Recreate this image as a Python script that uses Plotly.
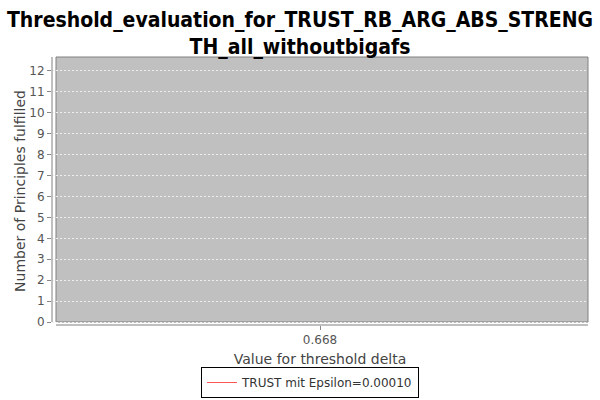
import plotly.graph_objects as go

# Data
x_values = [0.668]
y_values = [12]
series_name = "TRUST mit Epsilon=0.00010"
x_tick_vals = [0.668]
x_tick_text = ["0.668"]
y_tick_vals = list(range(0, 13))

title_text = "Threshold_evaluation_for_TRUST_RB_ARG_ABS_STRENG<br>TH_all_withoutbigafs"

fig = go.Figure()
fig.add_trace(go.Scatter(
    x=x_values, y=y_values, mode="lines", name=series_name,
    line=dict(color="#FF5555", width=1),
    showlegend=True,
))

L, R, T, B = 52, 12, 57, 75
W, H = 600, 400
pw = W - L - R
ph = H - T - B
gx = 4 / pw          # gap between y axis and plot box
gy = 3 / ph          # gap between x axis and plot box

fig.update_layout(
    width=W, height=H,
    margin=dict(l=L, r=R, t=T, b=B, pad=0, autoexpand=False),
    paper_bgcolor="white",
    plot_bgcolor="white",
    font=dict(family="DejaVu Sans", color="#444444"),
    title=dict(
        text=title_text, x=0.5, xanchor="center", yref="container", y=1 - 27 / H, yanchor="middle",
        font=dict(family="DejaVu Sans Condensed, DejaVu Sans", size=21, color="black", weight="bold"),
    ),
    showlegend=True,
    legend=dict(
        xref="container", yref="container",
        x=310 / W, xanchor="center",
        y=1 - 398 / H, yanchor="bottom",
        bordercolor="black", borderwidth=1, bgcolor="white",
        font=dict(size=12, color="#333333"),
        orientation="h", itemwidth=30,
    ),
    xaxis=dict(
        range=[0.168, 1.168],
        tickvals=x_tick_vals, ticktext=x_tick_text,
        showgrid=False, zeroline=False, showline=False,
        ticks="outside", ticklen=4, tickcolor="#888888",
        tickfont=dict(size=12, color="#555555"),
        automargin=False,
        title=dict(text="Value for threshold delta", font=dict(size=14, color="#444444"), standoff=10),
    ),
    yaxis=dict(
        range=[-3 / 20.92, (322 - 57) / 20.92],
        tickvals=y_tick_vals,
        showgrid=True, gridcolor="#EEEEEE", griddash="2px,2px", gridwidth=1,
        zeroline=False, showline=False,
        ticks="outside", ticklen=4, tickcolor="#888888",
        tickfont=dict(size=12, color="#555555"),
        automargin=False,
        title=dict(text="Number of Principles fulfilled", font=dict(size=14, color="#444444"), standoff=0),
    ),
    shapes=[
        dict(type="rect", xref="paper", yref="paper", x0=gx, x1=1, y0=gy, y1=1,
             fillcolor="#C0C0C0", line=dict(color="#808080", width=1), layer="below"),
        dict(type="line", xref="paper", yref="paper", x0=0, x1=0, y0=gy, y1=1,
             line=dict(color="#808080", width=1)),
        dict(type="line", xref="paper", yref="paper", x0=gx, x1=1, y0=0, y1=0,
             line=dict(color="#808080", width=1)),
    ],
)

fig.write_html("out.html")
